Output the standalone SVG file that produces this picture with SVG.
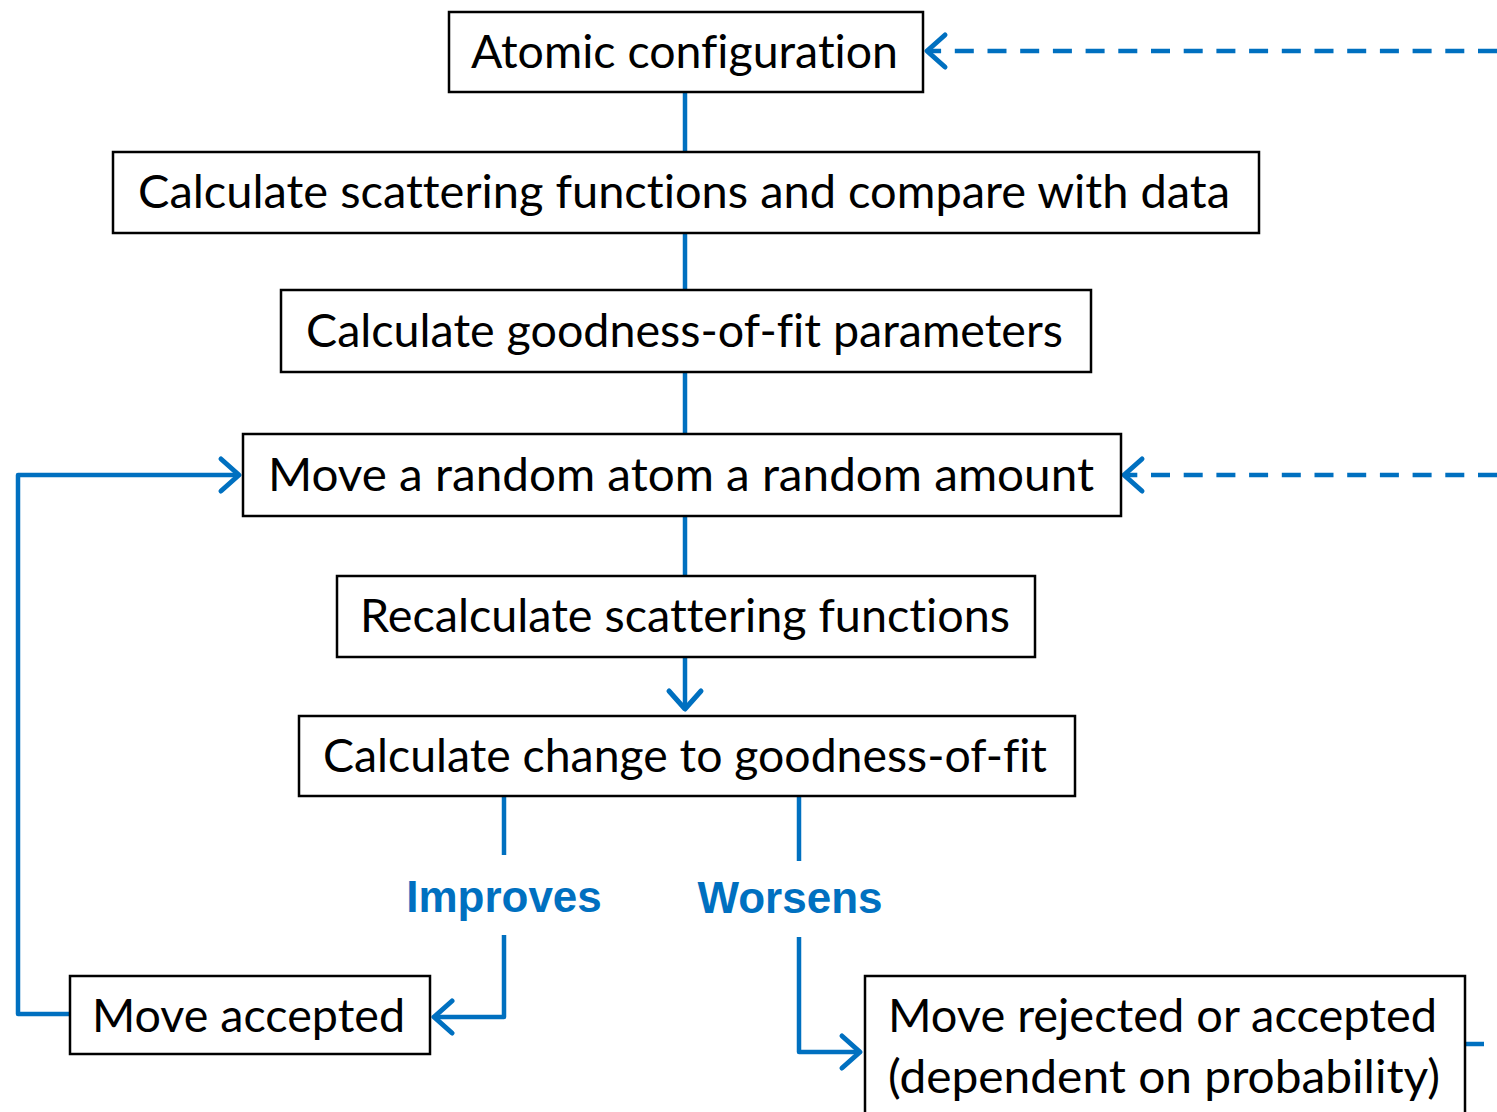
<svg xmlns="http://www.w3.org/2000/svg" width="1497" height="1112" viewBox="0 0 1497 1112">
<defs>
<style>
.box{fill:#fff;stroke:#000;stroke-width:2.5}
.t{font-family:Lato,"Open Sans","Liberation Sans",sans-serif;font-size:47px;fill:#000;font-variant-ligatures:none}
.lbl{font-family:"Liberation Sans",Arial,sans-serif;font-size:44px;font-weight:bold;fill:#0070C0}
.c{fill:none;stroke:#0070C0;stroke-width:4.5;stroke-linejoin:round}
.d{stroke-dasharray:19 13.7}
</style>
<marker id="ah" viewBox="-24 -20 28 40" markerWidth="28" markerHeight="40" refX="0" refY="0" orient="auto" markerUnits="userSpaceOnUse">
<path d="M-18,-16 L0,0 L-18,16" fill="none" stroke="#0070C0" stroke-width="5" stroke-linecap="round" stroke-linejoin="round"/>
</marker>
</defs>
<rect width="1497" height="1112" fill="#fff"/>
<g id="connectors">
<line class="c" x1="685" y1="92" x2="685" y2="152"/>
<line class="c" x1="685" y1="233" x2="685" y2="290"/>
<line class="c" x1="685" y1="372" x2="685" y2="434"/>
<line class="c" x1="685" y1="516" x2="685" y2="576"/>
<path class="c" d="M685,657 L685,709" marker-end="url(#ah)"/>
<path class="c" d="M504,796 L504,855"/>
<path class="c" d="M504,935 L504,1017 L434,1017" marker-end="url(#ah)"/>
<path class="c" d="M799,796 L799,861"/>
<path class="c" d="M799,937 L799,1052 L860,1052" marker-end="url(#ah)"/>
<path class="c" d="M70,1014 L18,1014 L18,475 L239,475" marker-end="url(#ah)"/>
<path class="c d" d="M1497,51 L927,51" marker-end="url(#ah)"/>
<path class="c d" d="M1497,475 L1124,475" marker-end="url(#ah)"/>
<line class="c" x1="1466" y1="1044" x2="1484" y2="1044"/>
</g>
<g id="n1"><rect class="box" x="449" y="12" width="474" height="80"/><text class="t" x="471" y="68" textLength="427" lengthAdjust="spacingAndGlyphs">Atomic configuration</text></g>
<g id="n2"><rect class="box" x="113" y="152" width="1146" height="81"/><text class="t" x="138" y="208" textLength="1092" lengthAdjust="spacingAndGlyphs">Calculate scattering functions and compare with data</text></g>
<g id="n3"><rect class="box" x="281" y="290" width="810" height="82"/><text class="t" x="306" y="347" textLength="757" lengthAdjust="spacingAndGlyphs">Calculate goodness-of-fit parameters</text></g>
<g id="n4"><rect class="box" x="243" y="434" width="878" height="82"/><text class="t" x="268" y="491" textLength="826" lengthAdjust="spacingAndGlyphs">Move a random atom a random amount</text></g>
<g id="n5"><rect class="box" x="337" y="576" width="698" height="81"/><text class="t" x="360" y="632" textLength="650" lengthAdjust="spacingAndGlyphs">Recalculate scattering functions</text></g>
<g id="n6"><rect class="box" x="299" y="716" width="776" height="80"/><text class="t" x="323" y="772" textLength="724" lengthAdjust="spacingAndGlyphs">Calculate change to goodness-of-fit</text></g>
<g id="n7"><rect class="box" x="70" y="976" width="360" height="78"/><text class="t" x="92" y="1032" textLength="313" lengthAdjust="spacingAndGlyphs">Move accepted</text></g>
<g id="n8"><rect class="box" x="865" y="976" width="600" height="150"/><text class="t" x="888" y="1032" textLength="549" lengthAdjust="spacingAndGlyphs">Move rejected or accepted</text><text class="t" x="888" y="1093" textLength="552" lengthAdjust="spacingAndGlyphs">(dependent on probability)</text></g>
<g id="labels">
<text class="lbl" x="504" y="912" text-anchor="middle">Improves</text>
<text class="lbl" x="790" y="913" text-anchor="middle">Worsens</text>
</g>
</svg>
